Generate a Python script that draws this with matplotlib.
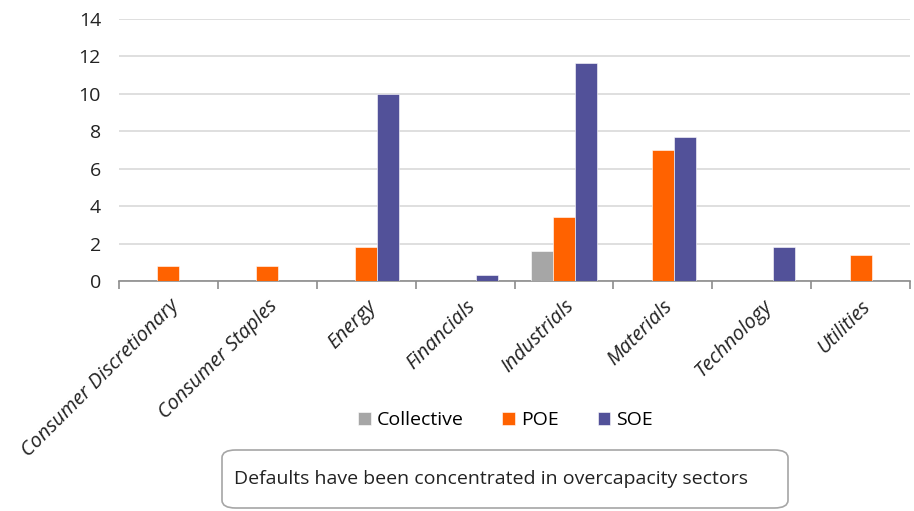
import numpy as np
import matplotlib
matplotlib.use('Agg')
import matplotlib.pyplot as plt
from matplotlib.patches import FancyBboxPatch

plt.rcParams['font.family'] = ['Open Sans', 'DejaVu Sans']

sectors = ["Consumer Discretionary", "Consumer Staples", "Energy", "Financials",
           "Industrials", "Materials", "Technology", "Utilities"]
collective = [0, 0, 0, 0, 1.6, 0, 0, 0]
poe = [0.8, 0.8, 1.8, 0, 3.4, 7.0, 0, 1.4]
soe = [0, 0, 10.0, 0.3, 11.65, 7.7, 1.8, 0]
series_names = ["Collective", "POE", "SOE"]
series_colors = ["#a6a6a6", "#ff6200", "#525199"]

fig = plt.figure(figsize=(9.14, 5.11), dpi=100)
ax = fig.add_axes([119 / 914, 1 - 281 / 511, 791 / 914, 262 / 511])

x = np.arange(len(sectors))
w = 0.222
for i, (vals, name, col) in enumerate(zip([collective, poe, soe], series_names, series_colors)):
    vals = np.array(vals, dtype=float)
    mask = vals > 0
    ax.bar(x[mask] + (i - 1) * w, vals[mask], width=w, color=col, label=name,
           edgecolor='white', linewidth=0.4, zorder=3)

ax.set_xlim(-0.5, len(sectors) - 0.5)
ax.set_ylim(0, 14)
ax.set_yticks(range(0, 15, 2))
ax.yaxis.grid(True, color='#d9d9d9', linewidth=1.2, zorder=0)
ax.set_axisbelow(True)

for s in ['top', 'right', 'left']:
    ax.spines[s].set_visible(False)
ax.spines['bottom'].set_color('#8c8c8c')
ax.spines['bottom'].set_linewidth(1.2)

# tick marks sit between categories, labels under each category centre
ax.set_xticks(np.arange(len(sectors) + 1) - 0.5)
ax.set_xticklabels([])
ax.set_xticks(x, minor=True)
ax.set_xticklabels(sectors, minor=True, rotation=45, ha='right', rotation_mode='anchor',
                   fontsize=14.5, style='italic', color='#222222')
ax.tick_params(axis='x', which='major', length=6, color='#8c8c8c', width=1.2)
ax.tick_params(axis='x', which='minor', length=0, pad=11)
ax.tick_params(axis='y', length=0, labelsize=14, pad=13, labelcolor='#222222')

fig.legend(loc='center', bbox_to_anchor=(0.553, 1 - 420 / 511), ncol=3, frameon=False,
           fontsize=14, handlelength=0.65, handleheight=0.65, handletextpad=0.3,
           columnspacing=2.0)

box = FancyBboxPatch((222 / 914, 1 - 508 / 511), 566 / 914, 58 / 511,
                     boxstyle="round,pad=0,rounding_size=0.015",
                     transform=fig.transFigure, facecolor='white',
                     edgecolor='#a6a6a6', linewidth=1.2)
fig.patches.append(box)
fig.text(234 / 914, 1 - 479 / 511, "Defaults have been concentrated in overcapacity sectors",
         fontsize=14, va='center', ha='left', color='#222222')

fig.savefig("out.png", dpi=100)
